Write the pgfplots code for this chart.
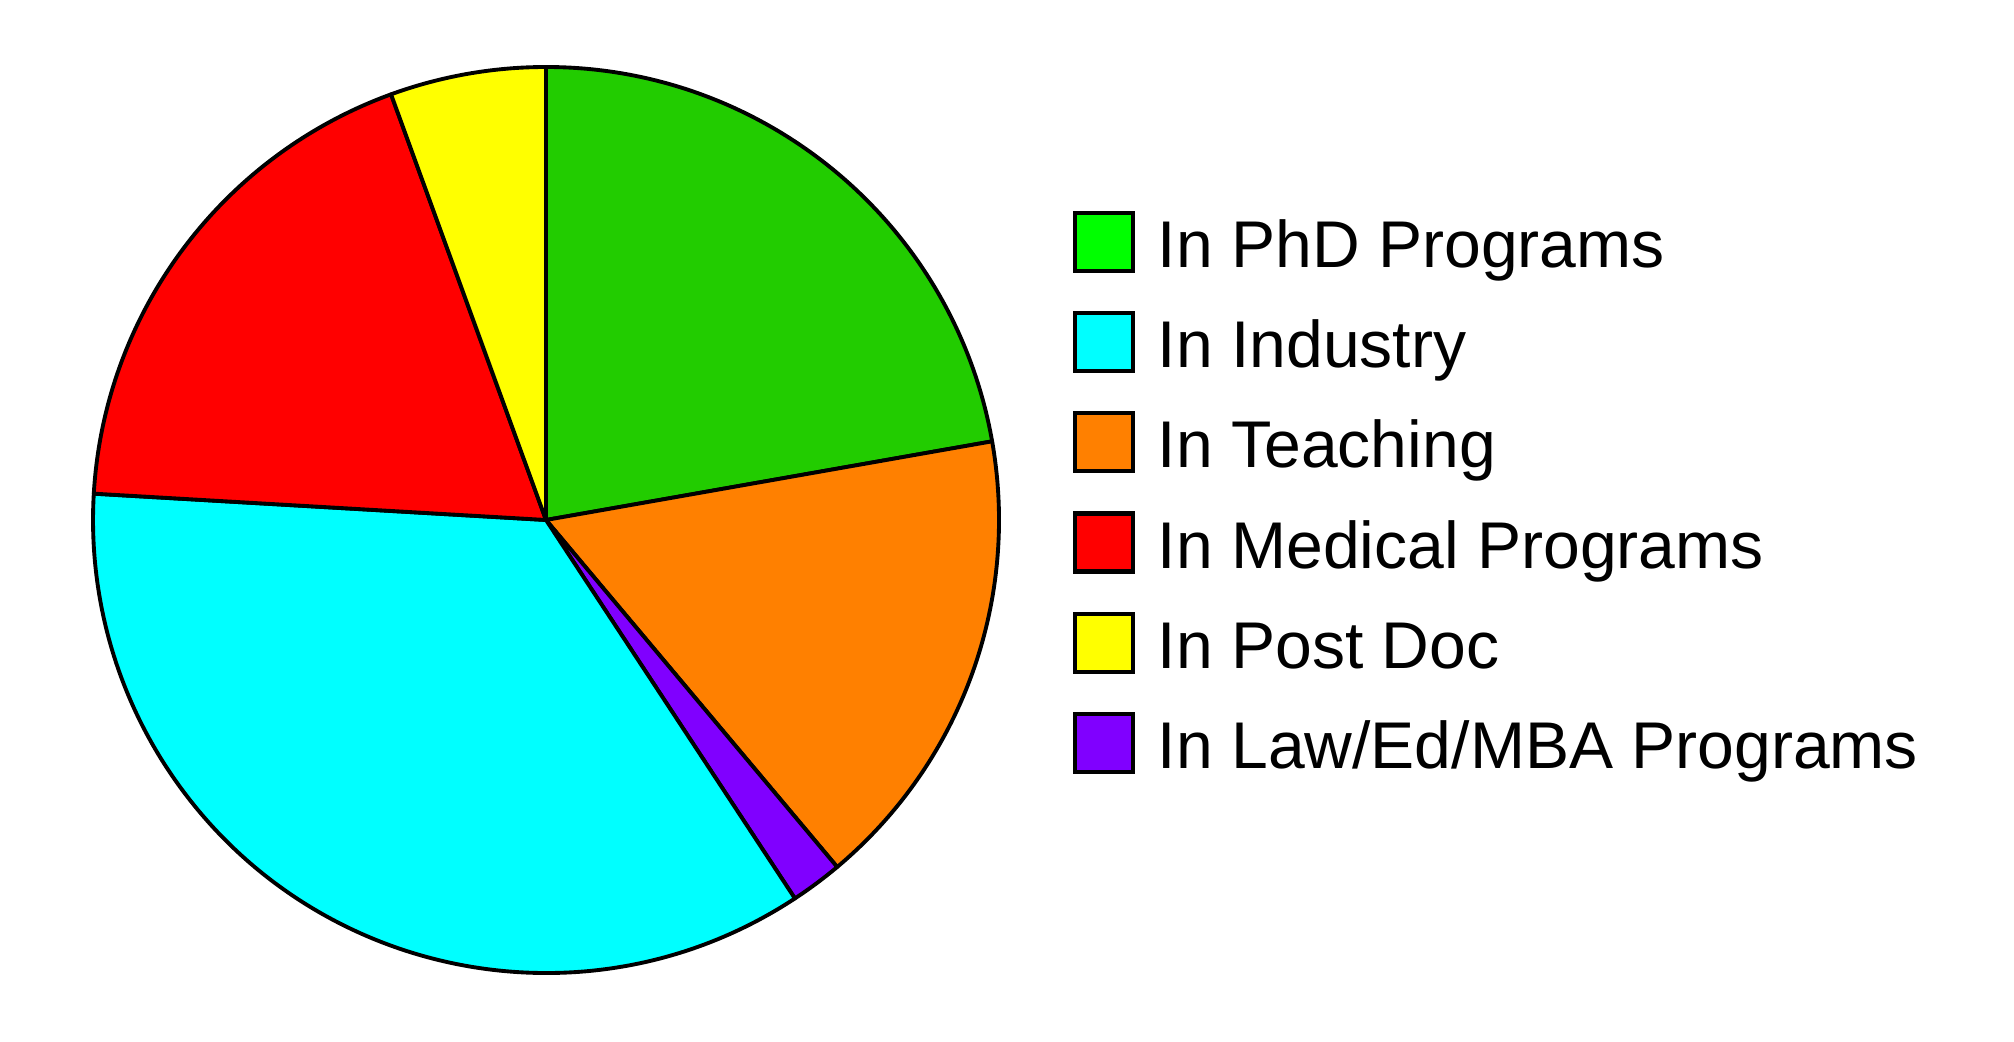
\documentclass[border=0pt]{standalone}
\usepackage{pgfplots}
\pgfplotsset{compat=1.18}
\usepackage{fontspec}
\setmainfont{Liberation Sans}
\definecolor{cgreen}{HTML}{22CC00}
\definecolor{lgreen}{HTML}{00FF00}
\definecolor{ccyan}{HTML}{00FFFF}
\definecolor{corange}{HTML}{FF8000}
\definecolor{cred}{HTML}{FF0000}
\definecolor{cyellow}{HTML}{FFFF00}
\definecolor{cpurple}{HTML}{8000FF}
\begin{document}
\begin{tikzpicture}
% counts per category (clockwise from top)
\def\nPhD{12}
\def\nTeach{9}
\def\nLaw{1}
\def\nInd{19}
\def\nMed{10}
\def\nPost{3}
\pgfmathsetmacro\total{\nPhD+\nTeach+\nLaw+\nInd+\nMed+\nPost}
\pgfmathsetmacro\aA{90}
\pgfmathsetmacro\aB{\aA-360*\nPhD/\total}
\pgfmathsetmacro\aC{\aB-360*\nTeach/\total}
\pgfmathsetmacro\aD{\aC-360*\nLaw/\total}
\pgfmathsetmacro\aE{\aD-360*\nInd/\total}
\pgfmathsetmacro\aF{\aE-360*\nMed/\total}
\pgfmathsetmacro\aG{\aF-360*\nPost/\total}
\def\R{4.53cm}
\begin{axis}[
  scale only axis, width=20.14cm, height=10.42cm,
  xmin=0, xmax=2014, ymin=0, ymax=1042,
  hide axis, clip=false,
  legend cell align=left,
  legend image code/.code={\draw[#1,draw=black,line width=1.2pt] (0mm,-2.1mm) rectangle (5.8mm,3.7mm);},
  legend style={at={(axis cs:1072,832)}, anchor=north west, draw=none, fill=none,
    inner sep=0pt, row sep=8.4pt, column sep=2.3mm,
    font=\fontsize{18.8}{18.8}\selectfont,
    nodes={inner sep=0pt, text height=14pt, text depth=4pt}},
]
\path (axis cs:0,0) (axis cs:2014,1042);
\filldraw[fill=cgreen, draw=black, line width=1.1pt, line join=round] (axis cs:546,522) -- ++(\aA:\R) arc[start angle=\aA, end angle=\aB, radius=\R] -- cycle;
\filldraw[fill=corange, draw=black, line width=1.1pt, line join=round] (axis cs:546,522) -- ++(\aB:\R) arc[start angle=\aB, end angle=\aC, radius=\R] -- cycle;
\filldraw[fill=cpurple, draw=black, line width=1.1pt, line join=round] (axis cs:546,522) -- ++(\aC:\R) arc[start angle=\aC, end angle=\aD, radius=\R] -- cycle;
\filldraw[fill=ccyan, draw=black, line width=1.1pt, line join=round] (axis cs:546,522) -- ++(\aD:\R) arc[start angle=\aD, end angle=\aE, radius=\R] -- cycle;
\filldraw[fill=cred, draw=black, line width=1.1pt, line join=round] (axis cs:546,522) -- ++(\aE:\R) arc[start angle=\aE, end angle=\aF, radius=\R] -- cycle;
\filldraw[fill=cyellow, draw=black, line width=1.1pt, line join=round] (axis cs:546,522) -- ++(\aF:\R) arc[start angle=\aF, end angle=\aG, radius=\R] -- cycle;
\addlegendimage{fill=lgreen}
\addlegendentry{In PhD Programs}
\addlegendimage{fill=ccyan}
\addlegendentry{In Industry}
\addlegendimage{fill=corange}
\addlegendentry{In Teaching}
\addlegendimage{fill=cred}
\addlegendentry{In Medical Programs}
\addlegendimage{fill=cyellow}
\addlegendentry{In Post Doc}
\addlegendimage{fill=cpurple}
\addlegendentry{In Law/Ed/MBA Programs}
\end{axis}
\end{tikzpicture}
\end{document}
